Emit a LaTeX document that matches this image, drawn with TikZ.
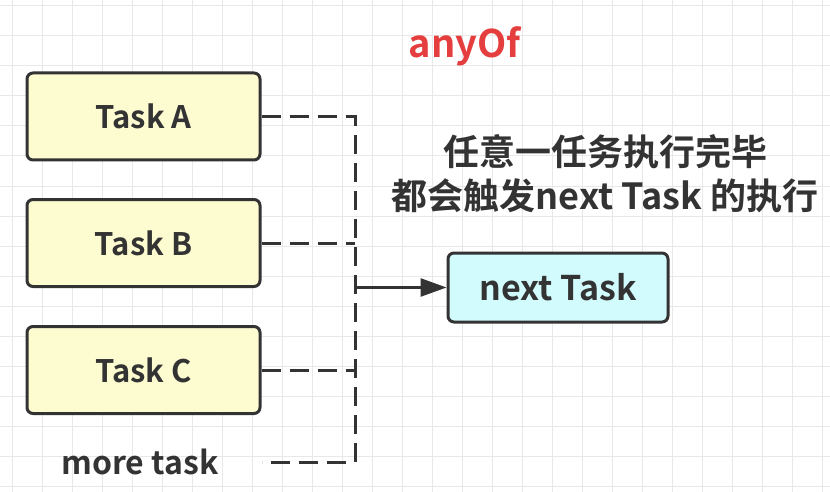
\documentclass[tikz,border=0pt]{standalone}
\usepackage{fontspec}
\setmainfont{Noto Sans CJK SC}[BoldFont={Noto Sans CJK SC Bold}]
\usepackage{tikz}
\usetikzlibrary{arrows.meta,positioning}
\definecolor{taskYellow}{RGB}{253,251,208}
\definecolor{nextCyan}{RGB}{210,251,253}
\definecolor{gridGray}{RGB}{232,232,232}
\definecolor{inkGray}{RGB}{51,51,51}
\definecolor{anyRed}{RGB}{229,62,62}

\tikzset{
  taskbox/.style={draw=inkGray, line width=3pt, rounded corners=6pt, fill=taskYellow,
    minimum width=233pt, minimum height=87pt, text=inkGray, font=\bfseries\fontsize{31}{35}\selectfont},
  nextbox/.style={taskbox, fill=nextCyan, minimum width=220pt, minimum height=69pt,
    font=\bfseries\fontsize{34}{38}\selectfont},
  waitline/.style={inkGray, line width=3pt, dash pattern=on 19pt off 9pt},
}

\begin{document}
\begin{tikzpicture}[x=1pt,y=-1pt]
\useasboundingbox (0,0) rectangle (830,492);
\fill[white] (0,0) rectangle (830,492);
\foreach \gx in {12,42,...,822}
  \draw[gridGray, line width=1pt] (\gx,0)--(\gx,492);
\foreach \gy in {6,36,...,486}
  \draw[gridGray, line width=1pt] (0,\gy)--(830,\gy);

\node[taskbox] (ta) at (143.5,116.5) {Task A};
\node[taskbox] (tb) at (143.5,243) {Task B};
\node[taskbox] (tc) at (143.5,370) {Task C};
\node[text=inkGray, font=\bfseries\fontsize{32}{36}\selectfont] (more) at (140,462) {more task};
\node[nextbox] (nt) at (558,287.5) {next Task};

\node[text=anyRed, font=\bfseries\fontsize{38}{42}\selectfont] (title) at (465,46) {anyOf};
\node[text=inkGray, align=center, font=\bfseries\fontsize{36}{44}\selectfont] (note) at (605,174)
  {任意一任务执行完毕\\都会触发next Task 的执行};

\coordinate (bus) at (355,0);
\coordinate (mEnd) at (262,462);
\draw[waitline] (ta.east) -- (ta.east -| bus) -- (mEnd -| bus) -- (mEnd);
\draw[waitline] (tb.east) -- (tb.east -| bus);
\draw[waitline] (tc.east) -- (tc.east -| bus);
\draw[inkGray, line width=2.6pt, -{Triangle[length=26pt,width=18pt]}] (nt.west -| bus) -- (nt.west);
\end{tikzpicture}
\end{document}
